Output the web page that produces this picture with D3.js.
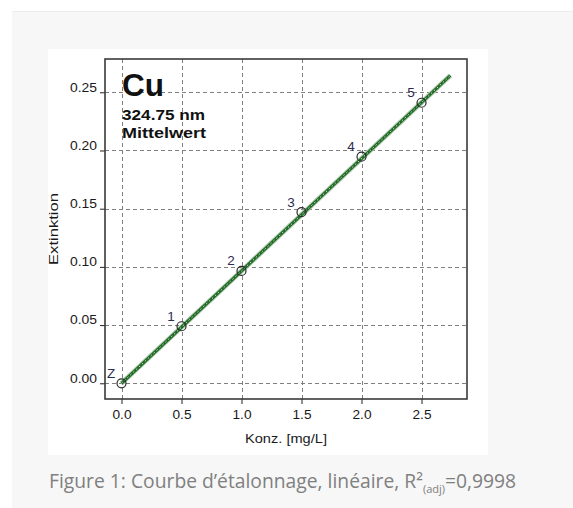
<!DOCTYPE html>
<html><head><meta charset="utf-8">
<script src="https://cdnjs.cloudflare.com/ajax/libs/d3/7.8.5/d3.min.js"></script>
<style>
html,body{margin:0;padding:0;background:#fff;}
svg{display:block;}
</style></head>
<body>
<svg id="c" width="573" height="508"></svg>
<script>
// ---- data ----
const concentrations = [0, 0.5, 1.0, 1.5, 2.0, 2.5];      // Konz. [mg/L]
const extinctions    = [0, 0.049, 0.0965, 0.147, 0.1947, 0.241];
const pointLabels    = ["Z", "1", "2", "3", "4", "5"];
const xTicks = [0, 0.5, 1.0, 1.5, 2.0, 2.5];
const yTicks = [0, 0.05, 0.10, 0.15, 0.20, 0.25];
const fitSlope = 0.0965;
const fitIntercept = 0;
const fitRange = [0, 2.74];
const element = "Cu";
const wavelength = "324.75 nm";
const mode = "Mittelwert";
const xTitle = "Konz. [mg/L]";
const yTitle = "Extinktion";

const svg = d3.select("#c");
// page background
svg.append("rect").attr("x",12).attr("y",11).attr("width",600).attr("height",520).attr("fill","#f7f7f7");
svg.append("line").attr("x1",12).attr("x2",573).attr("y1",11.5).attr("y2",11.5).attr("stroke","#ececec");
svg.append("rect").attr("x",48).attr("y",49).attr("width",440).attr("height",406).attr("fill","#fff");

const L=105,R=467,T=59,B=399;
const x = d3.scaleLinear().domain([-0.1375, 2.879]).range([L,R]);
const y = d3.scaleLinear().domain([-0.0135, 0.2786]).range([B,T]);

const g = svg.append("g");
// grid
g.selectAll(".vg").data(xTicks).join("line")
  .attr("x1",d=>Math.round(x(d))+0.5).attr("x2",d=>Math.round(x(d))+0.5)
  .attr("y1",T).attr("y2",B).attr("stroke","#808080").attr("stroke-dasharray","4,3");
g.selectAll(".hg").data(yTicks).join("line")
  .attr("y1",d=>Math.round(y(d))+0.5).attr("y2",d=>Math.round(y(d))+0.5)
  .attr("x1",L).attr("x2",R).attr("stroke","#808080").attr("stroke-dasharray","4,3");

// axes
const fnt = "Liberation Sans, Arial, sans-serif";
const xa = g.append("g").attr("transform",`translate(0,${B})`)
  .call(d3.axisBottom(x).tickValues(xTicks).tickFormat(d3.format(".1f")).tickSize(5).tickPadding(6));
xa.select(".domain").remove();
xa.selectAll("line").attr("stroke","#222");
xa.selectAll("text").attr("font-family",fnt).attr("font-size",12.5).attr("fill","#1a1a1a")
  .attr("textLength",19).attr("lengthAdjust","spacingAndGlyphs");
const ya = g.append("g").attr("transform",`translate(${L},0)`)
  .call(d3.axisLeft(y).tickValues(yTicks).tickFormat(d3.format(".2f")).tickSize(5).tickPadding(3));
ya.select(".domain").remove();
ya.selectAll("line").attr("stroke","#222");
ya.selectAll("text").attr("font-family",fnt).attr("font-size",12.5).attr("fill","#1a1a1a")
  .attr("dy","-0.1em").attr("textLength",27).attr("lengthAdjust","spacingAndGlyphs");

// fit line
const lineGen = d3.line().x(d=>x(d)).y(d=>y(fitIntercept+fitSlope*d));
g.append("path").datum(fitRange).attr("d",lineGen).attr("stroke","#b5c9b5").attr("stroke-width",5).attr("fill","none");
g.append("path").datum(fitRange).attr("d",lineGen).attr("stroke","#1f6b24").attr("stroke-width",3).attr("fill","none");
g.append("path").datum(fitRange).attr("d",lineGen).attr("stroke","#cfe6cf").attr("stroke-width",1).attr("stroke-dasharray","1.5,2.5").attr("fill","none");

// points
const pts = concentrations.map((c,i)=>({c, e:extinctions[i], l:pointLabels[i]}));
g.selectAll(".pt").data(pts).join("circle")
  .attr("cx",d=>x(d.c)).attr("cy",d=>y(d.e)).attr("r",4.5)
  .attr("fill","none").attr("stroke","#2a2a2a").attr("stroke-width",1.2);
g.selectAll(".pl").data(pts).join("text")
  .attr("x",d=>x(d.c)-10.5).attr("y",d=>y(d.e)-5.5).attr("text-anchor","middle")
  .attr("font-family",fnt).attr("font-size",13.5).attr("fill","#2c2c50").text(d=>d.l);

// frame
g.append("rect").attr("x",L).attr("y",T).attr("width",R-L).attr("height",B-T)
  .attr("fill","none").attr("stroke","#3a3a3a").attr("stroke-width",1.6);

// annotations
g.append("text").attr("x",122).attr("y",96).attr("font-family",fnt).attr("font-weight","bold")
  .attr("font-size",31).attr("fill","#111").attr("textLength",42).attr("lengthAdjust","spacingAndGlyphs").text(element);
g.append("text").attr("x",122).attr("y",120).attr("font-family",fnt).attr("font-weight","bold")
  .attr("font-size",15).attr("fill","#111").attr("textLength",83).attr("lengthAdjust","spacingAndGlyphs").text(wavelength);
g.append("text").attr("x",122).attr("y",137.5).attr("font-family",fnt).attr("font-weight","bold")
  .attr("font-size",15).attr("fill","#111").attr("textLength",84).attr("lengthAdjust","spacingAndGlyphs").text(mode);

// axis titles
g.append("text").attr("x",286).attr("y",443).attr("text-anchor","middle").attr("font-family",fnt)
  .attr("font-size",12.5).attr("fill","#1a1a1a").attr("textLength",82).attr("lengthAdjust","spacingAndGlyphs").text(xTitle);
g.append("text").attr("transform","translate(58,229) rotate(-90)").attr("text-anchor","middle").attr("font-family",fnt)
  .attr("font-size",13).attr("fill","#1a1a1a").attr("textLength",72).attr("lengthAdjust","spacingAndGlyphs").text(yTitle);

// caption
const cap = svg.append("text").attr("x",49).attr("y",488).attr("font-family","Open Sans, sans-serif")
  .attr("font-size",19.3).attr("fill","#808080");
cap.append("tspan").text("Figure 1: Courbe d’étalonnage, linéaire, R²");
cap.append("tspan").attr("font-size",11).attr("dy",5).text("(adj)");
cap.append("tspan").attr("dy",-5).text("=0,9998");
</script>
</body></html>
